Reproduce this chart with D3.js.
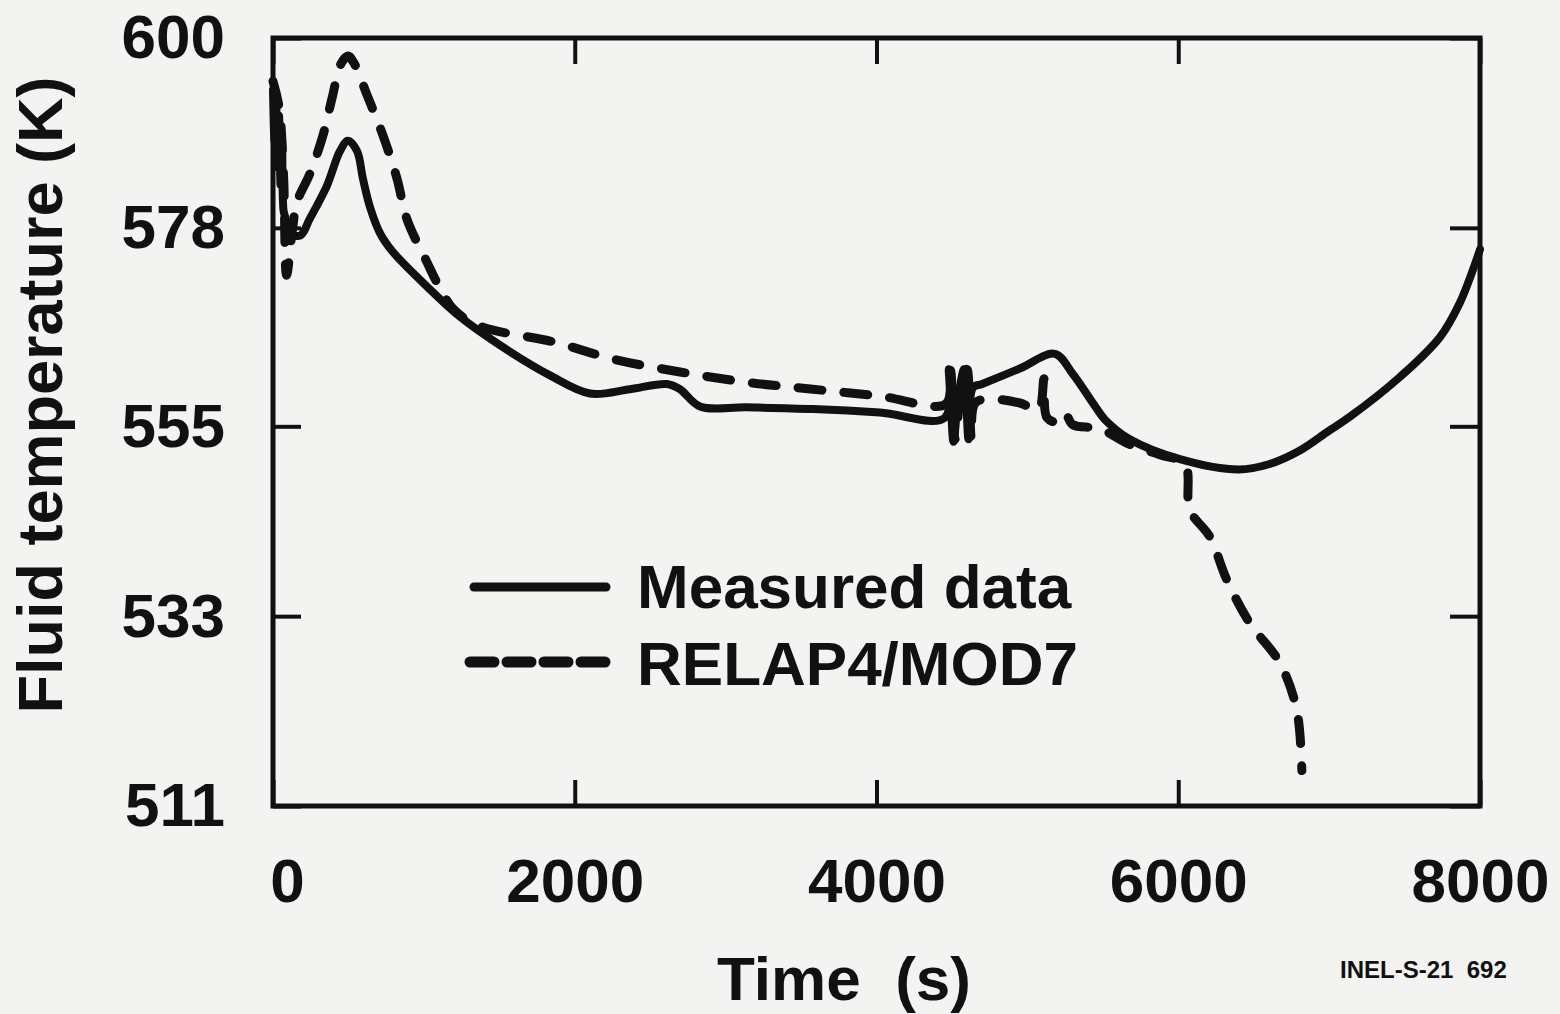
<!DOCTYPE html>
<html>
<head>
<meta charset="utf-8">
<script src="https://cdn.jsdelivr.net/npm/d3@7"></script>
<style>
  body { margin: 0; background: #f3f3f1; }
  svg { display: block; }
  text { font-family: "Liberation Sans", Arial, sans-serif; font-weight: bold; fill: #111; }
</style>
</head>
<body>
<div class="graph"></div>
<script>
// values
const xTicks = [0, 2000, 4000, 6000, 8000];
const yTicks = [511, 533, 555, 578, 600];

const measuredTime = [0, 10, 20, 30, 40, 50, 60, 70, 85, 100, 180, 245, 358, 444, 497, 557, 596, 643, 709, 795, 1021, 1239, 1504, 1836, 2101, 2366, 2611, 2697, 2830, 3141, 3578, 4022, 4453, 4480, 4510, 4540, 4580, 4610, 4640, 4700, 4950, 5182, 5300, 5450, 5513, 5679, 6011, 6400, 6600, 6806, 7000, 7137, 7468, 7733, 7866, 7979, 8000];
const measuredTemp = [594, 588, 593, 585, 591, 583, 588, 580, 579, 577.5, 577.1, 579.1, 582.9, 586.9, 588.1, 586.9, 583.7, 580.4, 577.4, 575.2, 571.2, 567.7, 564.4, 560.9, 558.8, 559.3, 559.9, 559.3, 557.3, 557.2, 557.0, 556.6, 556.0, 561.6, 553.2, 558, 561.6, 553.5, 559.5, 559.9, 561.7, 563.4, 561.1, 557.3, 555.8, 553.5, 551.2, 550.0, 550.6, 552.2, 554.5, 556.1, 560.7, 565.3, 569.3, 574.4, 575.5];

const relapTime = [0, 40, 70, 90, 130, 159, 245, 331, 391, 450, 497, 540, 623, 729, 822, 888, 1021, 1107, 1200, 1372, 1856, 2253, 2697, 3141, 3578, 4022, 4460, 4490, 4520, 4560, 4600, 4630, 4660, 4950, 5040, 5080, 5110, 5130, 5200, 5250, 5300, 5480, 5679, 5878, 6044, 6077, 6209, 6322, 6474, 6673, 6786, 6819];
const relapTemp = [595, 592, 584, 572.5, 578, 581, 584.3, 588.7, 593, 597, 597.9, 597, 593.4, 588.7, 583.7, 579, 574, 571, 568.5, 566.6, 564.8, 562.8, 561.3, 560.1, 559.3, 558.5, 557.6, 561.5, 553.5, 559, 561.6, 553.5, 557.8, 557.7, 557.0, 557, 560.5, 556, 555.5, 556.5, 555.2, 554.7, 552.9, 551.7, 550.6, 545.3, 542.2, 537.2, 532.2, 527.6, 522.1, 515.1];

const legendLabels = ["Measured data", "RELAP4/MOD7"];

const width = 1560;
const height = 1014;
const margin = { top: 38, right: 80, bottom: 208, left: 273 };
const ink = "#111";

const canvas = d3.select(".graph")
  .append("svg")
  .attr("width", width)
  .attr("height", height);

const x = d3.scaleLinear()
  .domain([0, 8000])
  .range([margin.left, width - margin.right]);

const y = d3.scaleLinear()
  .domain([511, 600])
  .range([height - margin.bottom, margin.top]);

// axes, ticks pointing inward
const styleAxis = g => {
  g.select(".domain").remove();
  g.selectAll(".tick line").attr("stroke", ink).attr("stroke-width", 4);
  g.attr("font-family", null).attr("font-size", 62);
};

canvas.append("g")
  .attr("transform", `translate(0, ${y(511)})`)
  .call(d3.axisBottom(x).tickValues(xTicks).tickFormat(d3.format("d")).tickSize(-26).tickPadding(52))
  .call(styleAxis)
  .selectAll("text").attr("dx", d => d === 0 ? 14 : 0);

canvas.append("g")
  .attr("transform", `translate(0, ${y(600)})`)
  .call(d3.axisTop(x).tickValues(xTicks).tickFormat("").tickSize(-26))
  .call(styleAxis);

canvas.append("g")
  .attr("transform", `translate(${x(0)}, 0)`)
  .call(d3.axisLeft(y).tickValues(yTicks).tickSize(-28).tickPadding(48))
  .call(styleAxis);

canvas.append("g")
  .attr("transform", `translate(${x(8000)}, 0)`)
  .call(d3.axisRight(y).tickValues(yTicks).tickFormat("").tickSize(-30))
  .call(styleAxis);

// frame
canvas.append("rect")
  .attr("x", x(0))
  .attr("y", y(600))
  .attr("width", x(8000) - x(0))
  .attr("height", y(511) - y(600))
  .attr("fill", "none")
  .attr("stroke", ink)
  .attr("stroke-width", 5);

const line = d3.line()
  .x(d => x(d[0]))
  .y(d => y(d[1]))
  .curve(d3.curveCatmullRom.alpha(0.5));

canvas.append("path")
  .datum(measuredTime.map((t, i) => [t, measuredTemp[i]]))
  .attr("d", line)
  .attr("fill", "none")
  .attr("stroke", ink)
  .attr("stroke-width", 8)
  .attr("stroke-linejoin", "round")
  .attr("stroke-linecap", "round");

canvas.append("path")
  .datum(relapTime.map((t, i) => [t, relapTemp[i]]))
  .attr("d", line)
  .attr("fill", "none")
  .attr("stroke", ink)
  .attr("stroke-width", 9)
  .attr("stroke-dasharray", "24 22")
  .attr("stroke-linejoin", "round")
  .attr("stroke-linecap", "round");

// legend
const legend = canvas.append("g");
legend.append("line")
  .attr("x1", 474).attr("x2", 606).attr("y1", 587).attr("y2", 587)
  .attr("stroke", ink).attr("stroke-width", 9).attr("stroke-linecap", "round");
legend.append("line")
  .attr("x1", 470).attr("x2", 608).attr("y1", 662).attr("y2", 662)
  .attr("stroke", ink).attr("stroke-width", 11).attr("stroke-linecap", "round")
  .attr("stroke-dasharray", "24 13");
legend.selectAll("text.lab")
  .data(legendLabels)
  .enter().append("text")
  .attr("class", "lab")
  .attr("x", 637)
  .attr("y", (d, i) => 608 + i * 77)
  .attr("font-size", 62)
  .text(d => d);

// axis titles
canvas.append("text")
  .attr("transform", "translate(62, 395) rotate(-90)")
  .attr("text-anchor", "middle")
  .attr("font-size", 63)
  .text("Fluid temperature (K)");

canvas.append("text")
  .attr("x", 844)
  .attr("y", 1000)
  .attr("text-anchor", "middle")
  .attr("font-size", 62)
  .style("white-space", "pre")
  .text("Time  (s)");

canvas.append("text")
  .attr("x", 1340)
  .attr("y", 978)
  .attr("font-size", 24)
  .style("white-space", "pre")
  .text("INEL-S-21  692");
</script>
</body>
</html>
